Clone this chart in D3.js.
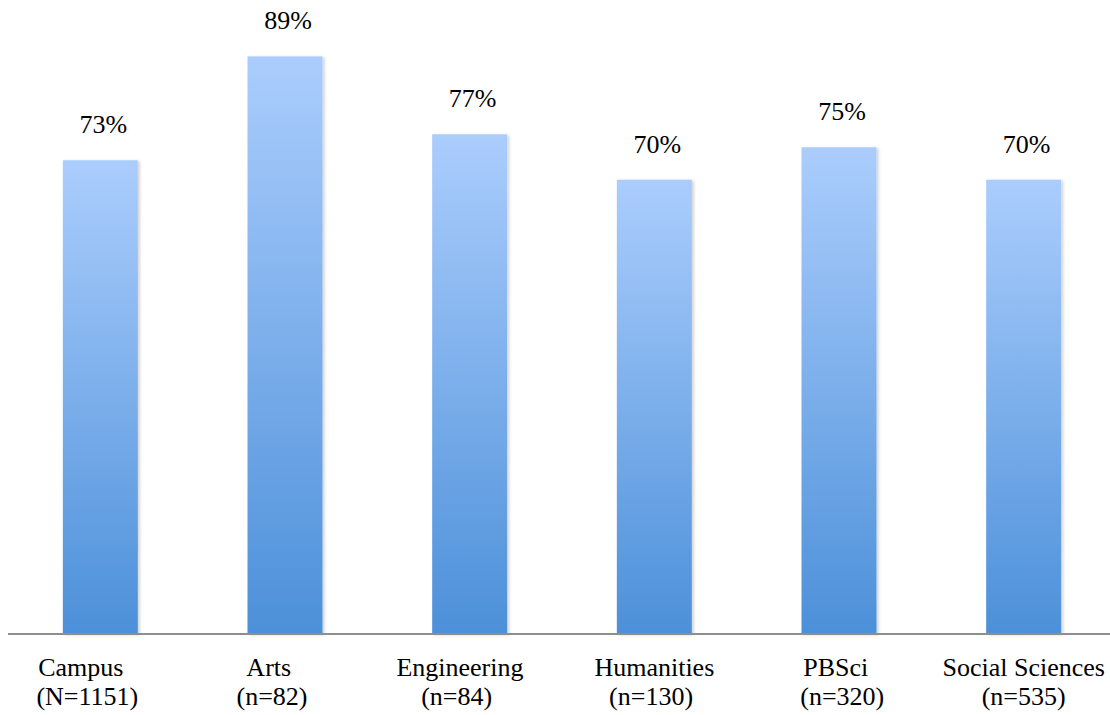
<!DOCTYPE html>
<html>
<head>
<meta charset="utf-8">
<script src="https://cdn.jsdelivr.net/npm/d3@7"></script>
</head>
<body style="margin:0">
<svg id="chart" width="1110" height="715"></svg>
<script>
// Chart data
var categories = ["Campus", "Arts", "Engineering", "Humanities", "PBSci", "Social Sciences"];
// first and second line of each axis label (spacing kept as in the original labels)
var labelLine1 = ["Campus      ", "Arts     ", "Engineering   ", "Humanities", "PBSci ", "Social Sciences"];
var labelLine2 = ["(N=1151)    ", "(n=82)    ", "(n=84)    ", "(n=130) ", " (n=320)", "(n=535)"];
var values = [73, 89, 77, 70, 75, 70];

var labelFont = "'Liberation Serif'";

var svg = d3.select("#chart");

var baseline = 634;

var x = d3.scaleBand()
    .domain(categories)
    .range([8, 1116])
    .paddingInner(0.594)
    .paddingOuter(0.297);

var y = d3.scaleLinear()
    .domain([0, 100])
    .range([baseline, -15]);

// Gradient + soft shadow for the bars
var defs = svg.append("defs");
var grad = defs.append("linearGradient")
    .attr("id", "barGrad")
    .attr("x1", 0).attr("y1", 0)
    .attr("x2", 0).attr("y2", 1);
grad.append("stop").attr("offset", "0%").attr("stop-color", "#abcdfd");
grad.append("stop").attr("offset", "100%").attr("stop-color", "#4c90d9");

var shadow = defs.append("filter")
    .attr("id", "barShadow")
    .attr("x", "-10%").attr("y", "-5%")
    .attr("width", "130%").attr("height", "115%");
shadow.append("feDropShadow")
    .attr("dx", 2).attr("dy", 1)
    .attr("stdDeviation", 1.5)
    .attr("flood-color", "#000")
    .attr("flood-opacity", 0.18);

// Bars
svg.append("g")
    .attr("class", "bars")
  .selectAll("rect")
  .data(values)
  .enter().append("rect")
    .attr("x", function(d, i) { return x(categories[i]); })
    .attr("y", function(d) { return y(d); })
    .attr("width", x.bandwidth())
    .attr("height", function(d) { return baseline - y(d); })
    .attr("fill", "url(#barGrad)")
    .attr("filter", "url(#barShadow)");

// Baseline
svg.append("line")
    .attr("x1", 8).attr("x2", 1110)
    .attr("y1", baseline).attr("y2", baseline)
    .attr("stroke", "#8e8e8e")
    .attr("stroke-width", 2);

// Value labels
svg.append("g")
    .attr("class", "values")
  .selectAll("text")
  .data(values)
  .enter().append("text")
    .attr("x", function(d, i) { return x(categories[i]) + x.bandwidth() / 2 + 3; })
    .attr("y", function(d) { return y(d) - 27; })
    .attr("text-anchor", "middle")
    .style("font-family", labelFont)
    .style("font-size", "26px")
    .text(function(d) { return d + "%"; });

// Category labels (two lines)
var labels = svg.append("g")
    .attr("class", "labels")
  .selectAll("text")
  .data(categories)
  .enter().append("text")
    .attr("text-anchor", "middle")
    .style("font-family", labelFont)
    .style("font-size", "26px")
    .style("white-space", "pre");

labels.append("tspan")
    .attr("x", function(d) { return x(d) + x.bandwidth() / 2; })
    .attr("y", 676)
    .text(function(d, i) { return labelLine1[i]; });

labels.append("tspan")
    .attr("x", function(d) { return x(d) + x.bandwidth() / 2; })
    .attr("y", 705)
    .text(function(d, i) { return labelLine2[i]; });
</script>
</body>
</html>
